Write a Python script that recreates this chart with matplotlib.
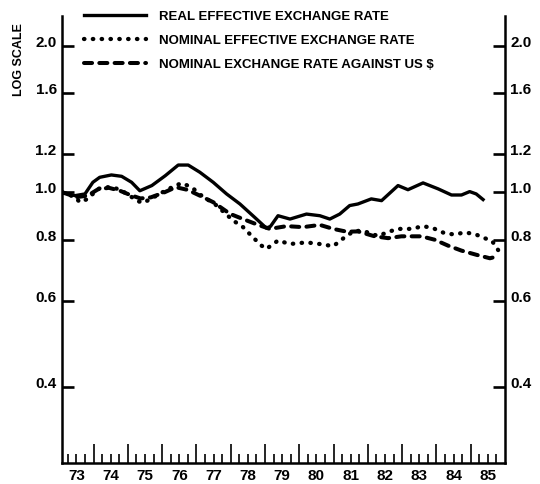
import matplotlib
matplotlib.use('Agg')
from matplotlib import pyplot as plt
from matplotlib.ticker import FixedLocator, NullLocator, NullFormatter

plt.rcParams['font.family'] = ['Liberation Sans', 'DejaVu Sans']
plt.rcParams['font.weight'] = 'bold'

# real effective exchange rate (index, log scale)
real_t = [1973.10, 1973.46, 1973.75, 1973.98, 1974.18, 1974.52, 1974.82, 1975.11,
          1975.35, 1975.70, 1976.09, 1976.47, 1976.76, 1977.10, 1977.49, 1977.88,
          1978.27, 1978.70, 1979.04, 1979.16, 1979.38, 1979.73, 1980.21, 1980.60,
          1980.89, 1981.18, 1981.47, 1981.71, 1982.10, 1982.40, 1982.88, 1983.17,
          1983.61, 1984.05, 1984.44, 1984.73, 1984.97, 1985.16, 1985.36]
real_v = [1.000, 0.985, 0.993, 1.049, 1.074, 1.086, 1.079, 1.049,
          1.008, 1.033, 1.082, 1.138, 1.138, 1.100, 1.049, 0.993,
          0.947, 0.889, 0.845, 0.852, 0.896, 0.882, 0.903, 0.896,
          0.882, 0.903, 0.940, 0.947, 0.970, 0.962, 1.033, 1.013,
          1.046, 1.017, 0.988, 0.988, 1.004, 0.993, 0.967]

# nominal effective exchange rate
nom_t = [1973.10, 1973.46, 1973.60, 1973.83, 1974.13, 1974.33, 1974.57, 1974.82,
         1975.06, 1975.25, 1975.45, 1975.70, 1976.09, 1976.35, 1976.57, 1976.86,
         1977.15, 1977.55, 1977.85, 1978.07, 1978.36, 1978.65, 1978.90, 1979.04,
         1979.38, 1979.73, 1980.21, 1980.60, 1980.99, 1981.38, 1981.62, 1981.91,
         1982.30, 1982.59, 1982.88, 1983.27, 1983.61, 1983.90, 1984.24, 1984.53,
         1984.82, 1985.12, 1985.36, 1985.62, 1985.80]
nom_v = [1.000, 0.978, 0.955, 0.970, 1.017, 1.025, 1.025, 1.008,
         0.985, 0.962, 0.952, 0.973, 1.008, 1.030, 1.045, 1.025,
         0.985, 0.945, 0.905, 0.876, 0.849, 0.809, 0.778, 0.766,
         0.797, 0.784, 0.790, 0.784, 0.776, 0.815, 0.835, 0.832,
         0.814, 0.830, 0.842, 0.842, 0.853, 0.845, 0.825, 0.820,
         0.828, 0.822, 0.808, 0.796, 0.762]

# nominal exchange rate against the US dollar
usd_t = [1973.10, 1973.50, 1973.83, 1974.13, 1974.45, 1974.77, 1975.07, 1975.37,
         1975.67, 1976.06, 1976.40, 1976.75, 1977.10, 1977.49, 1977.98, 1978.36,
         1978.80, 1979.14, 1979.63, 1980.11, 1980.60, 1980.99, 1981.38, 1981.71,
         1982.20, 1982.59, 1982.98, 1983.56, 1983.95, 1984.34, 1984.73, 1985.17,
         1985.56, 1985.79]
usd_v = [1.000, 0.978, 0.985, 1.015, 1.022, 1.008, 0.988, 0.972,
         0.977, 1.000, 1.025, 1.012, 0.985, 0.955, 0.904, 0.882,
         0.858, 0.842, 0.853, 0.849, 0.858, 0.842, 0.831, 0.832,
         0.813, 0.806, 0.813, 0.813, 0.800, 0.778, 0.760, 0.745,
         0.733, 0.740]

years = list(range(1973, 1986))
ytick_vals = [0.4, 0.6, 0.8, 1.0, 1.2, 1.6, 2.0]
ytick_labels = ['0.4', '0.6', '0.8', '1.0', '1.2', '1.6', '2.0']

fig = plt.figure(figsize=(5.4, 4.85), dpi=100)
ax = fig.add_axes([62 / 540, 21 / 485, 443 / 540, 447 / 485])

l1, = ax.plot(real_t, real_v, color='black', lw=2.4, solid_joinstyle='round')
l2, = ax.plot(nom_t, nom_v, color='black', lw=3.1, linestyle=(0, (0.1, 1.95)),
              dash_capstyle='round')
l3, = ax.plot(usd_t, usd_v, color='black', lw=2.9, linestyle=(0, (2.0, 1.8)),
              dash_capstyle='round')

ax.set_yscale('log')
ax.set_ylim(0.279, 2.299)
ax.set_xlim(1973.08, 1986.0)

for side in ['left', 'right', 'bottom']:
    ax.spines[side].set_linewidth(1.8)
ax.spines['top'].set_visible(False)

# y ticks on both sides, pointing inwards
ax.yaxis.set_major_locator(FixedLocator(ytick_vals))
ax.yaxis.set_minor_locator(NullLocator())
ax.yaxis.set_major_formatter(NullFormatter())
ax.yaxis.set_minor_formatter(NullFormatter())
ax.tick_params(axis='y', which='major', direction='in', length=8.6, width=1.9,
               left=True, right=True, labelleft=False)
for v, lab in zip(ytick_vals, ytick_labels):
    ax.text(-0.012, v, lab, transform=ax.get_yaxis_transform(), ha='right',
            va='baseline', fontsize=11)
    ax.text(1.012, v, lab, transform=ax.get_yaxis_transform(), ha='left',
            va='baseline', fontsize=11)

# x ticks: years and quarters
ax.xaxis.set_major_locator(FixedLocator(years[1:]))
ax.xaxis.set_minor_locator(FixedLocator([y + q for y in years for q in (0.25, 0.5, 0.75)]))
ax.xaxis.set_major_formatter(NullFormatter())
ax.tick_params(axis='x', which='major', direction='in', length=13.5, width=1.2, top=False)
ax.tick_params(axis='x', which='minor', direction='in', length=6.5, width=1.2, top=False)
for y in years:
    ax.text(y + 0.5, -0.012, str(y % 100), transform=ax.get_xaxis_transform(),
            ha='center', va='top', fontsize=11)

fig.text(19 / 540, 1 - 60 / 485, 'LOG SCALE', rotation=90, ha='center',
         va='center', fontsize=9)

ax.legend([l1, l2, l3],
          ['REAL EFFECTIVE EXCHANGE RATE', 'NOMINAL EFFECTIVE EXCHANGE RATE',
           'NOMINAL EXCHANGE RATE AGAINST US $'],
          loc='upper left', bbox_to_anchor=(84 / 540, 1 - 11 / 485),
          bbox_transform=fig.transFigure, frameon=False, fontsize=9.5,
          handlelength=4.7, handletextpad=1.0, borderpad=0, borderaxespad=0,
          labelspacing=0.9)

fig.savefig('out.png', dpi=100)
